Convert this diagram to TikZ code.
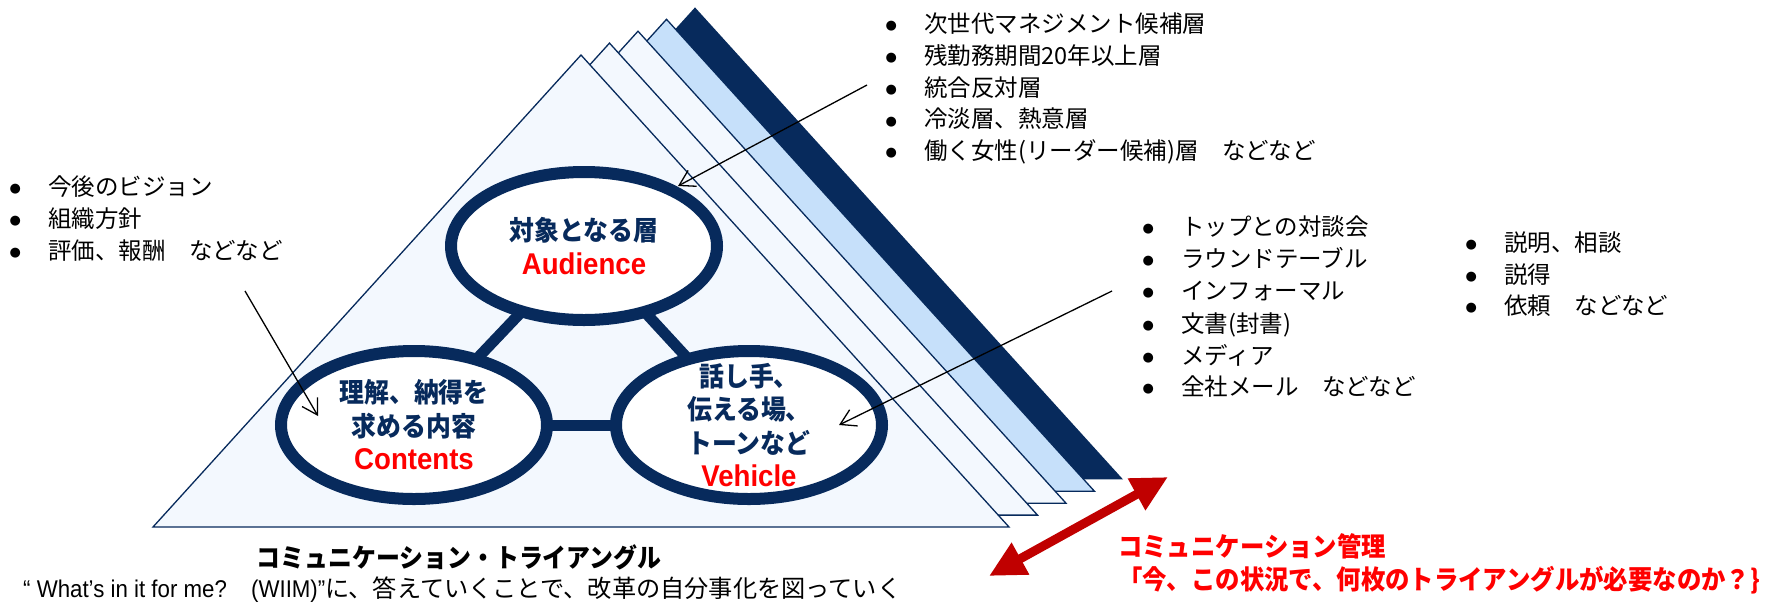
\documentclass[tikz,border=0pt]{standalone}
\usepackage{fontspec}
\setmainfont{Liberation Sans}
\newfontfamily\jp{Noto Sans CJK JP}
\newfontfamily\jpc{Noto Sans CJK JP}[FakeStretch=0.92]
\newfontfamily\enc{Liberation Sans}[FakeStretch=0.92]
\newfontfamily\bulf{DejaVu Sans}
\usetikzlibrary{arrows.meta,shapes.geometric}
\definecolor{tnavy}{HTML}{072A5C}
\definecolor{lfill}{HTML}{F3F8FE}
\definecolor{lblue}{HTML}{C6E0FA}
\definecolor{vred}{HTML}{FF0000}
\definecolor{dred}{HTML}{C00000}
\newcommand\bl{\makebox[0pt][c]{\raisebox{2.5pt}{\bulf\fontsize{13}{13}\selectfont ●}}\hspace*{33pt}}
\begin{document}
\begin{tikzpicture}[x=1pt,y=-1pt,
  tri/.style={fill=lfill,draw=tnavy,line width=1.3pt,line join=miter},
  ell/.style={ellipse,draw=tnavy,line width=12pt,fill=white,minimum width=266pt,minimum height=148pt,inner sep=-16pt,outer sep=0pt,align=center,text=tnavy,font=\jpc\bfseries\fontsize{27}{33.5}\selectfont},
  conn/.style={draw=tnavy,line width=11pt},
  arr/.style={draw=black,line width=1.3pt,-{Straight Barb[length=15pt,width=18pt]}},
  li/.style={anchor=base west,inner sep=0pt,font=\jp\fontsize{23.5}{28}\selectfont},
  redl/.style={anchor=west,inner sep=0pt,text=vred,font=\jpc\bfseries\fontsize{26.5}{26.5}\selectfont}]
\useasboundingbox (0,0) rectangle (1771,603);
% stacked triangles
\begin{scope}[shift={(114,-47.6)}]
  \fill[tnavy] (581,55) -- (153,527) -- (1009,527) -- cycle;
\end{scope}
\begin{scope}[shift={(85.5,-35.7)}]
  \filldraw[tri,fill=lblue] (581,55) -- (153,527) -- (1009,527) -- cycle;
\end{scope}
\begin{scope}[shift={(57,-23.8)}]
  \filldraw[tri] (581,55) -- (153,527) -- (1009,527) -- cycle;
\end{scope}
\begin{scope}[shift={(28.5,-11.9)}]
  \filldraw[tri] (581,55) -- (153,527) -- (1009,527) -- cycle;
\end{scope}
\filldraw[tri] (581,55) -- (153,527) -- (1009,527) -- cycle;
% ellipses
\node[ell] (aud) at (584,246) {対象となる層\\{\color{vred}\enc\bfseries\fontsize{30}{33.5}\selectfont Audience}};
\node[ell] (con) at (414,425) {理解、納得を\\求める内容\\{\color{vred}\enc\bfseries\fontsize{30}{33.5}\selectfont Contents}};
\node[ell] (veh) at (749,425) {話し手、\\伝える場、\\トーンなど\\{\color{vred}\enc\bfseries\fontsize{30}{33.5}\selectfont Vehicle}};
\draw[conn] (aud) -- (con);
\draw[conn] (aud) -- (veh);
\draw[conn] (con) -- (veh);
% lists
\node[li] (t1) at (891,32) {\bl 次世代マネジメント候補層};
\node[li] (t2) at (891,64) {\bl 残勤務期間20年以上層};
\node[li] (t3) at (891,96) {\bl 統合反対層};
\node[li] (t4) at (891,127.5) {\bl 冷淡層、熱意層};
\node[li] (t5) at (891,159) {\bl 働く女性(リーダー候補)層　などなど};
\node[li] (l1) at (15,195) {\bl 今後のビジョン};
\node[li] (l2) at (15,227) {\bl 組織方針};
\node[li] (l3) at (15,259) {\bl 評価、報酬　などなど};
\node[li] (r1) at (1148,235) {\bl トップとの対談会};
\node[li] (r2) at (1148,267) {\bl ラウンドテーブル};
\node[li] (r3) at (1148,299) {\bl インフォーマル};
\node[li] (r4) at (1148,332) {\bl 文書(封書)};
\node[li] (r5) at (1148,364) {\bl メディア};
\node[li] (r6) at (1148,395) {\bl 全社メール　などなど};
\node[li] (s1) at (1471,251) {\bl 説明、相談};
\node[li] (s2) at (1471,283) {\bl 説得};
\node[li] (s3) at (1471,314) {\bl 依頼　などなど};
% pointer arrows
\coordinate (a1s) at (867,85);  \coordinate (a1e) at (678,186);
\coordinate (a2s) at (245,291); \coordinate (a2e) at (318,416);
\coordinate (a3s) at (1112,291);\coordinate (a3e) at (839,425);
\draw[arr] (a1s) -- (a1e);
\draw[arr] (a2s) -- (a2e);
\draw[arr] (a3s) -- (a3e);
% red double arrow
\coordinate (ra) at (989,576); \coordinate (rb) at (1168,477);
\draw[dred,line width=9pt,{Triangle[length=36pt,width=34pt]}-{Triangle[length=36pt,width=34pt]}] (ra) -- (rb);
% captions
\node[inner sep=0pt,font=\jpc\bfseries\fontsize{26}{26}\selectfont] (ttl) at (459,557) {コミュニケーション・トライアングル};
\node[anchor=west,inner sep=0pt,font=\jp\fontsize{24.2}{24.2}\selectfont] (sub) at (23,590) {{\enc “ What’s in it for me?}　{\enc (WIIM)”}に、答えていくことで、改革の自分事化を図っていく};
\node[redl] (m1) at (1118,546) {コミュニケーション管理};
\node[redl] (m2) at (1118,580) {「今、この状況で、何枚のトライアングルが必要なのか？\}};
\end{tikzpicture}
\end{document}
